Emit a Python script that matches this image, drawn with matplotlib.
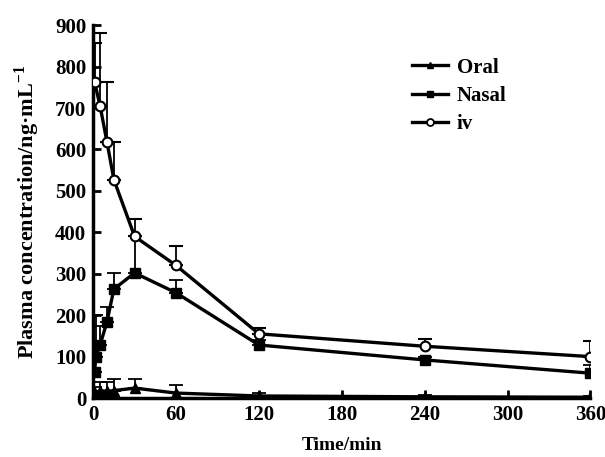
import matplotlib.pyplot as plt
from matplotlib.lines import Line2D

plt.rcParams['font.family'] = ['Liberation Serif', 'DejaVu Serif']
plt.rcParams['font.weight'] = 'bold'
plt.rcParams['mathtext.fontset'] = 'custom'
plt.rcParams['mathtext.bf'] = 'Liberation Serif:bold'

t_oral = [1, 5, 10, 15, 30, 60, 120, 240, 360]
oral = [12, 18, 16, 18, 24, 12, 5, 3, 2]
oral_err = [15, 20, 22, 28, 22, 20, 6, 4, 4]

t_nasal = [1, 2, 5, 10, 15, 30, 60, 120, 240, 360]
nasal = [64, 100, 128, 184, 263, 302, 254, 128, 92, 60]
nasal_err = [40, 100, 45, 35, 38, 88, 32, 12, 8, 20]

t_iv = [1, 5, 10, 15, 30, 60, 120, 240, 360]
iv = [763, 705, 618, 527, 390, 320, 155, 125, 100]
iv_err = [95, 175, 145, 92, 43, 48, 15, 18, 37]

fig = plt.figure(figsize=(6.05, 4.57), dpi=100)
ax = fig.add_axes([0.154, 0.129, 0.822, 0.816])

lw = 2.4
ekw = dict(color='black', lw=lw, ecolor='black', elinewidth=1.3,
           capsize=5, capthick=1.3, ms=7)
ax.errorbar(t_oral, oral, yerr=[[0]*len(oral), oral_err], marker='^',
            mfc='black', mec='black', zorder=3, **ekw)
ax.errorbar(t_nasal, nasal, yerr=[[0]*len(nasal), nasal_err], marker='s',
            mfc='black', mec='black', zorder=3, **ekw)
ax.errorbar(t_iv, iv, yerr=[[0]*len(iv), iv_err], marker='o',
            mfc='white', mec='black', mew=1.5, zorder=4, **ekw)

ax.set_xlim(0, 360)
ax.set_ylim(0, 900)
ax.set_xticks(range(0, 361, 60))
ax.set_yticks(range(0, 901, 100))
ax.spines['top'].set_visible(False)
ax.spines['right'].set_visible(False)
ax.spines['left'].set_linewidth(2.5)
ax.spines['bottom'].set_linewidth(2.5)
ax.tick_params(direction='in', length=6, width=2, labelsize=15, pad=5)
for lab in ax.get_xticklabels() + ax.get_yticklabels():
    lab.set_fontweight('bold')

ax.set_xlabel('Time/min', fontsize=14, fontweight='bold', labelpad=9)
ax.set_ylabel('Plasma concentration/ng·mL$^{\\mathbf{-1}}$', fontsize=16,
              fontweight='bold', labelpad=9)

handles = [
    Line2D([], [], color='black', lw=lw, marker='^', ms=5),
    Line2D([], [], color='black', lw=lw, marker='s', ms=5),
    Line2D([], [], color='black', lw=lw, marker='o', ms=5, mfc='white', mew=1.3),
]
fig.legend(handles, ['Oral', 'Nasal', 'iv'], loc='upper left',
           bbox_to_anchor=(0.65, 0.915), frameon=False,
           handlelength=1.75, handletextpad=0.4, labelspacing=0.4,
           prop={'weight': 'bold', 'size': 15})

fig.savefig('out.png', dpi=100)
